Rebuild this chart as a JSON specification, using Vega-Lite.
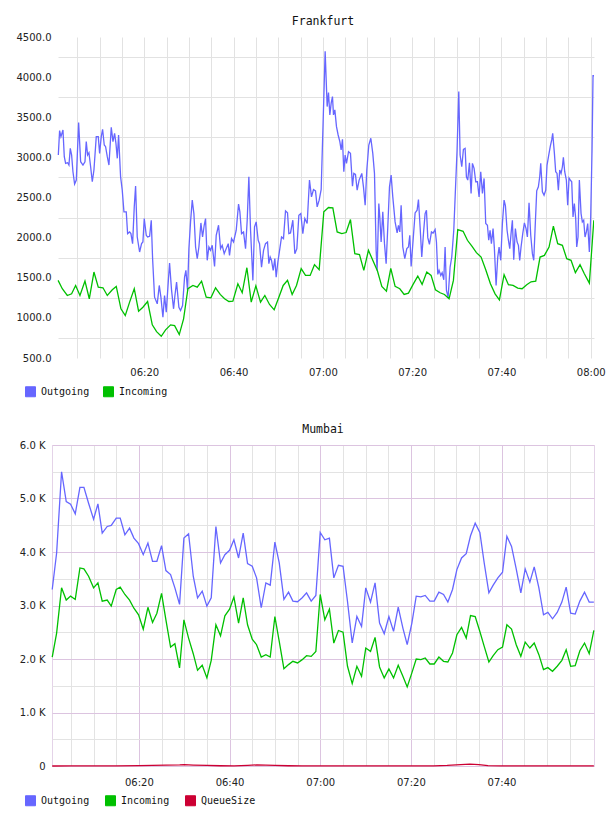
{
"$schema": "https://vega.github.io/schema/vega-lite/v6.json",
"background": "white",
"padding": {"left": 0, "top": 15, "right": 0, "bottom": 0},
"spacing": 24,
"columns": 1,
"config": {
  "font": "DejaVu Sans",
  "axis": {"labelFont": "DejaVu Sans", "labelFontSize": 10, "labelColor": "#222", "ticks": false, "domain": false, "title": null, "gridWidth": 1},
  "title": {"font": "DejaVu Sans Mono", "fontSize": 11.5, "fontWeight": "normal", "color": "#111", "anchor": "middle", "offset": 5},
  "legend": {"labelFont": "DejaVu Sans Mono", "labelFontSize": 10, "labelColor": "#111", "symbolType": "square", "symbolSize": 100, "labelOffset": 5, "title": null, "padding": 0}
},
"resolve": {"scale": {"x": "independent", "y": "independent", "color": "shared"}, "legend": {"color": "independent"}},
"datasets": {
"fra": [
{"m":0.75,"Outgoing":3029},{"m":1.04,"Outgoing":3333},{"m":1.34,"Outgoing":3258},{"m":1.79,"Outgoing":3342},{"m":2.09,"Outgoing":3008},{"m":2.39,"Outgoing":2925},{"m":2.84,"Outgoing":2933},{"m":3.13,"Outgoing":2904},{"m":3.43,"Outgoing":3112},{"m":3.73,"Outgoing":3029},{"m":4.03,"Outgoing":2821},{"m":4.4,"Outgoing":2667},{"m":4.78,"Outgoing":2717},{"m":5.3,"Outgoing":3433},{"m":5.75,"Outgoing":2946},{"m":6.27,"Outgoing":2904},{"m":6.72,"Outgoing":2946},{"m":7.01,"Outgoing":3196},{"m":7.31,"Outgoing":3029},{"m":7.61,"Outgoing":3058},{"m":7.99,"Outgoing":2883},{"m":8.36,"Outgoing":2696},{"m":8.73,"Outgoing":2842},{"m":9.25,"Outgoing":3258},{"m":9.7,"Outgoing":3258},{"m":10.0,"Outgoing":3050},{"m":10.37,"Outgoing":3258},{"m":10.67,"Outgoing":3350},{"m":11.04,"Outgoing":3154},{"m":11.34,"Outgoing":3133},{"m":11.72,"Outgoing":3008},{"m":12.09,"Outgoing":2904},{"m":12.61,"Outgoing":3375},{"m":12.99,"Outgoing":3196},{"m":13.36,"Outgoing":3300},{"m":13.66,"Outgoing":3175},{"m":13.96,"Outgoing":2988},{"m":14.25,"Outgoing":3279},{"m":14.7,"Outgoing":2758},{"m":15.07,"Outgoing":2592},{"m":15.45,"Outgoing":2321},{"m":15.97,"Outgoing":2321},{"m":16.27,"Outgoing":2050},{"m":16.72,"Outgoing":2071},{"m":17.01,"Outgoing":2050},{"m":17.39,"Outgoing":1925},{"m":17.76,"Outgoing":2383},{"m":18.06,"Outgoing":2642},{"m":18.43,"Outgoing":2008},{"m":18.96,"Outgoing":1821},{"m":19.4,"Outgoing":1925},{"m":19.7,"Outgoing":1946},{"m":20.0,"Outgoing":2238},{"m":20.45,"Outgoing":2029},{"m":20.75,"Outgoing":2008},{"m":21.2,"Outgoing":2017},{"m":21.57,"Outgoing":2217},{"m":21.87,"Outgoing":1738},{"m":22.31,"Outgoing":1258},{"m":22.91,"Outgoing":1175},{"m":23.36,"Outgoing":1404},{"m":23.73,"Outgoing":1258},{"m":24.18,"Outgoing":1008},{"m":24.55,"Outgoing":1279},{"m":24.93,"Outgoing":1071},{"m":25.3,"Outgoing":1383},{"m":25.67,"Outgoing":1683},{"m":26.12,"Outgoing":1342},{"m":26.57,"Outgoing":1113},{"m":26.87,"Outgoing":1279},{"m":27.24,"Outgoing":1446},{"m":27.76,"Outgoing":1133},{"m":28.13,"Outgoing":1092},{"m":28.58,"Outgoing":1154},{"m":29.03,"Outgoing":1508},{"m":29.33,"Outgoing":1592},{"m":29.7,"Outgoing":1342},{"m":30.0,"Outgoing":1862},{"m":30.37,"Outgoing":2196},{"m":30.75,"Outgoing":2467},{"m":31.12,"Outgoing":2300},{"m":31.5,"Outgoing":1883},{"m":31.87,"Outgoing":1738},{"m":32.24,"Outgoing":1883},{"m":32.69,"Outgoing":2183},{"m":33.06,"Outgoing":2008},{"m":33.43,"Outgoing":2154},{"m":33.73,"Outgoing":2238},{"m":34.1,"Outgoing":1717},{"m":34.48,"Outgoing":1883},{"m":34.85,"Outgoing":1842},{"m":35.22,"Outgoing":1904},{"m":35.75,"Outgoing":1642},{"m":36.12,"Outgoing":2029},{"m":36.64,"Outgoing":2154},{"m":37.09,"Outgoing":1863},{"m":37.46,"Outgoing":1904},{"m":37.91,"Outgoing":1800},{"m":38.36,"Outgoing":1863},{"m":38.81,"Outgoing":1925},{"m":39.1,"Outgoing":1779},{"m":39.55,"Outgoing":1988},{"m":40.0,"Outgoing":1946},{"m":40.6,"Outgoing":2092},{"m":41.12,"Outgoing":2417},{"m":41.42,"Outgoing":2321},{"m":41.79,"Outgoing":2050},{"m":42.24,"Outgoing":2071},{"m":42.69,"Outgoing":1863},{"m":43.06,"Outgoing":2217},{"m":43.43,"Outgoing":2758},{"m":43.81,"Outgoing":2092},{"m":44.33,"Outgoing":1467},{"m":44.7,"Outgoing":2133},{"m":45.07,"Outgoing":2196},{"m":45.52,"Outgoing":1967},{"m":45.82,"Outgoing":1925},{"m":46.27,"Outgoing":1633},{"m":46.72,"Outgoing":1842},{"m":47.16,"Outgoing":1925},{"m":47.61,"Outgoing":1946},{"m":47.91,"Outgoing":1675},{"m":48.21,"Outgoing":1758},{"m":48.51,"Outgoing":1717},{"m":48.88,"Outgoing":1592},{"m":49.25,"Outgoing":1738},{"m":49.55,"Outgoing":1508},{"m":49.93,"Outgoing":1696},{"m":50.37,"Outgoing":1863},{"m":50.75,"Outgoing":2008},{"m":51.19,"Outgoing":1988},{"m":51.64,"Outgoing":2333},{"m":52.09,"Outgoing":2308},{"m":52.39,"Outgoing":2050},{"m":52.76,"Outgoing":2058},{"m":53.28,"Outgoing":2217},{"m":53.73,"Outgoing":1800},{"m":54.18,"Outgoing":1863},{"m":54.63,"Outgoing":2279},{"m":55.07,"Outgoing":2300},{"m":55.52,"Outgoing":2050},{"m":55.97,"Outgoing":2238},{"m":56.49,"Outgoing":2175},{"m":57.01,"Outgoing":2717},{"m":57.46,"Outgoing":2508},{"m":57.91,"Outgoing":2600},{"m":58.36,"Outgoing":2583},{"m":58.73,"Outgoing":2383},{"m":59.18,"Outgoing":2467},{"m":59.63,"Outgoing":2600},{"m":60.52,"Outgoing":4321},{"m":60.97,"Outgoing":3633},{"m":61.27,"Outgoing":3808},{"m":61.57,"Outgoing":3529},{"m":61.87,"Outgoing":3675},{"m":62.16,"Outgoing":3758},{"m":62.39,"Outgoing":3529},{"m":62.69,"Outgoing":3592},{"m":63.06,"Outgoing":3383},{"m":63.43,"Outgoing":3279},{"m":63.81,"Outgoing":3196},{"m":64.1,"Outgoing":3092},{"m":64.4,"Outgoing":3225},{"m":64.7,"Outgoing":2821},{"m":65.0,"Outgoing":3029},{"m":65.3,"Outgoing":2925},{"m":65.75,"Outgoing":3071},{"m":66.19,"Outgoing":3050},{"m":66.64,"Outgoing":2642},{"m":66.94,"Outgoing":2800},{"m":67.31,"Outgoing":2788},{"m":67.69,"Outgoing":2592},{"m":68.13,"Outgoing":2717},{"m":68.73,"Outgoing":2800},{"m":69.1,"Outgoing":2633},{"m":69.48,"Outgoing":2404},{"m":69.85,"Outgoing":2842},{"m":70.3,"Outgoing":3154},{"m":70.75,"Outgoing":3238},{"m":71.19,"Outgoing":3050},{"m":71.57,"Outgoing":2800},{"m":71.94,"Outgoing":1842},{"m":72.16,"Outgoing":1592},{"m":72.54,"Outgoing":2425},{"m":72.76,"Outgoing":2258},{"m":73.06,"Outgoing":1946},{"m":73.43,"Outgoing":2321},{"m":73.81,"Outgoing":1925},{"m":74.18,"Outgoing":1675},{"m":74.55,"Outgoing":2133},{"m":74.93,"Outgoing":2633},{"m":75.3,"Outgoing":2779},{"m":75.67,"Outgoing":2508},{"m":76.19,"Outgoing":2196},{"m":76.64,"Outgoing":2058},{"m":76.94,"Outgoing":2154},{"m":77.24,"Outgoing":2071},{"m":77.54,"Outgoing":2404},{"m":77.91,"Outgoing":1883},{"m":78.36,"Outgoing":1738},{"m":78.81,"Outgoing":1863},{"m":79.18,"Outgoing":1883},{"m":79.48,"Outgoing":2029},{"m":79.78,"Outgoing":1642},{"m":80.22,"Outgoing":1967},{"m":80.67,"Outgoing":2308},{"m":81.12,"Outgoing":2342},{"m":81.42,"Outgoing":2475},{"m":81.79,"Outgoing":2133},{"m":82.16,"Outgoing":1758},{"m":82.54,"Outgoing":2050},{"m":82.91,"Outgoing":2300},{"m":83.21,"Outgoing":2342},{"m":83.51,"Outgoing":2000},{"m":83.88,"Outgoing":1917},{"m":84.33,"Outgoing":2071},{"m":84.7,"Outgoing":2058},{"m":85.15,"Outgoing":2100},{"m":85.45,"Outgoing":1946},{"m":85.75,"Outgoing":1542},{"m":86.04,"Outgoing":1592},{"m":86.42,"Outgoing":1529},{"m":86.72,"Outgoing":1563},{"m":87.09,"Outgoing":1475},{"m":87.39,"Outgoing":1883},{"m":87.69,"Outgoing":1342},{"m":88.06,"Outgoing":1258},{"m":88.51,"Outgoing":1633},{"m":88.88,"Outgoing":1758},{"m":89.33,"Outgoing":2092},{"m":89.7,"Outgoing":2592},{"m":90.07,"Outgoing":3092},{"m":90.45,"Outgoing":3821},{"m":90.75,"Outgoing":3029},{"m":91.12,"Outgoing":2883},{"m":91.49,"Outgoing":3100},{"m":91.87,"Outgoing":3113},{"m":92.16,"Outgoing":2758},{"m":92.46,"Outgoing":2717},{"m":92.84,"Outgoing":2933},{"m":93.21,"Outgoing":2550},{"m":93.51,"Outgoing":2925},{"m":93.88,"Outgoing":2863},{"m":94.25,"Outgoing":2696},{"m":94.63,"Outgoing":2696},{"m":95.0,"Outgoing":2508},{"m":95.37,"Outgoing":2821},{"m":95.75,"Outgoing":2550},{"m":96.12,"Outgoing":2738},{"m":96.49,"Outgoing":2175},{"m":96.87,"Outgoing":2154},{"m":97.16,"Outgoing":1967},{"m":97.46,"Outgoing":2092},{"m":97.76,"Outgoing":1925},{"m":98.13,"Outgoing":2113},{"m":98.43,"Outgoing":1863},{"m":98.81,"Outgoing":1404},{"m":99.18,"Outgoing":1758},{"m":99.48,"Outgoing":1883},{"m":99.85,"Outgoing":1717},{"m":100.22,"Outgoing":2175},{"m":100.6,"Outgoing":2467},{"m":100.9,"Outgoing":2396},{"m":101.27,"Outgoing":2092},{"m":101.57,"Outgoing":1967},{"m":101.87,"Outgoing":1863},{"m":102.16,"Outgoing":2050},{"m":102.46,"Outgoing":2217},{"m":102.76,"Outgoing":1725},{"m":103.13,"Outgoing":2113},{"m":103.51,"Outgoing":1946},{"m":103.81,"Outgoing":1904},{"m":104.1,"Outgoing":1717},{"m":104.4,"Outgoing":1883},{"m":104.78,"Outgoing":2050},{"m":105.15,"Outgoing":2183},{"m":105.52,"Outgoing":2113},{"m":105.82,"Outgoing":2008},{"m":106.19,"Outgoing":2433},{"m":106.57,"Outgoing":2029},{"m":106.94,"Outgoing":1800},{"m":107.24,"Outgoing":1717},{"m":107.61,"Outgoing":2196},{"m":107.91,"Outgoing":2583},{"m":108.28,"Outgoing":2633},{"m":108.58,"Outgoing":2758},{"m":108.81,"Outgoing":2925},{"m":109.18,"Outgoing":2571},{"m":109.55,"Outgoing":2529},{"m":109.93,"Outgoing":2592},{"m":110.22,"Outgoing":2904},{"m":110.6,"Outgoing":3029},{"m":110.97,"Outgoing":3142},{"m":111.27,"Outgoing":3217},{"m":111.49,"Outgoing":3300},{"m":111.87,"Outgoing":3050},{"m":112.16,"Outgoing":2821},{"m":112.46,"Outgoing":2800},{"m":112.76,"Outgoing":2592},{"m":113.06,"Outgoing":2842},{"m":113.36,"Outgoing":2800},{"m":113.66,"Outgoing":2883},{"m":113.88,"Outgoing":3000},{"m":114.18,"Outgoing":2821},{"m":114.55,"Outgoing":2717},{"m":114.85,"Outgoing":2404},{"m":115.15,"Outgoing":2742},{"m":115.45,"Outgoing":2717},{"m":115.75,"Outgoing":2696},{"m":116.04,"Outgoing":2258},{"m":116.34,"Outgoing":2425},{"m":116.64,"Outgoing":2238},{"m":116.87,"Outgoing":1883},{"m":117.16,"Outgoing":2008},{"m":117.46,"Outgoing":2717},{"m":117.84,"Outgoing":2300},{"m":118.13,"Outgoing":2196},{"m":118.43,"Outgoing":2217},{"m":118.73,"Outgoing":2008},{"m":119.03,"Outgoing":2071},{"m":119.33,"Outgoing":2175},{"m":119.7,"Outgoing":1821},{"m":120.0,"Outgoing":2258},{"m":120.3,"Outgoing":3092},{"m":120.52,"Outgoing":4017},{"m":120.74,"Outgoing":4017},
{"m":0.7,"Incoming":1467},{"m":1.64,"Incoming":1363},{"m":2.76,"Incoming":1279},{"m":3.73,"Incoming":1300},{"m":4.63,"Incoming":1404},{"m":5.6,"Incoming":1279},{"m":6.72,"Incoming":1458},{"m":7.69,"Incoming":1238},{"m":8.73,"Incoming":1571},{"m":9.7,"Incoming":1383},{"m":10.75,"Incoming":1375},{"m":11.72,"Incoming":1279},{"m":12.84,"Incoming":1350},{"m":13.73,"Incoming":1392},{"m":14.78,"Incoming":1113},{"m":15.75,"Incoming":1029},{"m":16.72,"Incoming":1196},{"m":17.76,"Incoming":1363},{"m":18.73,"Incoming":1083},{"m":19.7,"Incoming":1133},{"m":20.75,"Incoming":1204},{"m":21.8,"Incoming":913},{"m":22.76,"Incoming":829},{"m":23.81,"Incoming":771},{"m":24.78,"Incoming":850},{"m":25.9,"Incoming":913},{"m":26.8,"Incoming":904},{"m":27.84,"Incoming":792},{"m":28.81,"Incoming":988},{"m":29.78,"Incoming":1363},{"m":30.9,"Incoming":1404},{"m":31.87,"Incoming":1383},{"m":32.84,"Incoming":1458},{"m":33.88,"Incoming":1258},{"m":34.93,"Incoming":1250},{"m":35.97,"Incoming":1375},{"m":37.01,"Incoming":1292},{"m":37.99,"Incoming":1238},{"m":38.96,"Incoming":1204},{"m":39.85,"Incoming":1208},{"m":40.97,"Incoming":1425},{"m":41.94,"Incoming":1313},{"m":42.99,"Incoming":1625},{"m":43.96,"Incoming":1196},{"m":45.0,"Incoming":1400},{"m":46.04,"Incoming":1196},{"m":47.01,"Incoming":1279},{"m":48.06,"Incoming":1167},{"m":49.1,"Incoming":1100},{"m":50.15,"Incoming":1258},{"m":51.12,"Incoming":1404},{"m":52.09,"Incoming":1467},{"m":53.13,"Incoming":1292},{"m":54.1,"Incoming":1404},{"m":55.15,"Incoming":1613},{"m":56.12,"Incoming":1529},{"m":57.16,"Incoming":1529},{"m":58.13,"Incoming":1663},{"m":59.18,"Incoming":1600},{"m":60.22,"Incoming":2321},{"m":61.27,"Incoming":2375},{"m":62.24,"Incoming":2371},{"m":63.21,"Incoming":2071},{"m":64.25,"Incoming":2050},{"m":65.22,"Incoming":2063},{"m":66.19,"Incoming":2225},{"m":67.16,"Incoming":1800},{"m":68.21,"Incoming":1788},{"m":69.18,"Incoming":1592},{"m":70.22,"Incoming":1842},{"m":71.19,"Incoming":1717},{"m":72.24,"Incoming":1583},{"m":73.21,"Incoming":1392},{"m":74.25,"Incoming":1333},{"m":75.22,"Incoming":1617},{"m":76.19,"Incoming":1392},{"m":77.24,"Incoming":1363},{"m":78.21,"Incoming":1292},{"m":79.18,"Incoming":1308},{"m":80.22,"Incoming":1417},{"m":81.27,"Incoming":1521},{"m":82.24,"Incoming":1417},{"m":83.28,"Incoming":1571},{"m":84.25,"Incoming":1529},{"m":85.22,"Incoming":1350},{"m":86.27,"Incoming":1313},{"m":87.24,"Incoming":1292},{"m":88.28,"Incoming":1238},{"m":89.25,"Incoming":1467},{"m":90.22,"Incoming":2100},{"m":91.42,"Incoming":2079},{"m":92.39,"Incoming":1967},{"m":93.43,"Incoming":1892},{"m":94.4,"Incoming":1813},{"m":95.45,"Incoming":1758},{"m":96.49,"Incoming":1600},{"m":97.54,"Incoming":1425},{"m":98.58,"Incoming":1300},{"m":99.55,"Incoming":1225},{"m":100.6,"Incoming":1538},{"m":101.57,"Incoming":1413},{"m":102.61,"Incoming":1404},{"m":103.66,"Incoming":1371},{"m":104.63,"Incoming":1363},{"m":105.67,"Incoming":1413},{"m":106.64,"Incoming":1450},{"m":107.69,"Incoming":1458},{"m":108.66,"Incoming":1758},{"m":109.63,"Incoming":1779},{"m":110.67,"Incoming":1883},{"m":111.64,"Incoming":2142},{"m":112.61,"Incoming":1925},{"m":113.66,"Incoming":1904},{"m":114.63,"Incoming":1738},{"m":115.6,"Incoming":1717},{"m":116.57,"Incoming":1563},{"m":117.61,"Incoming":1663},{"m":118.58,"Incoming":1550},{"m":119.7,"Incoming":1433},{"m":120.7,"Incoming":2217}
],
"mum": [
{"m":0.88,"Outgoing":3299,"Incoming":2037},{"m":1.85,"Outgoing":3981,"Incoming":2484},{"m":2.94,"Outgoing":5500,"Incoming":3330},{"m":3.97,"Outgoing":4942,"Incoming":3101},{"m":4.93,"Outgoing":4893,"Incoming":3175},{"m":5.96,"Outgoing":4713,"Incoming":3113},{"m":6.99,"Outgoing":5209,"Incoming":3702},{"m":7.87,"Outgoing":5209,"Incoming":3684},{"m":8.9,"Outgoing":4911,"Incoming":3547},{"m":10.0,"Outgoing":4614,"Incoming":3330},{"m":10.96,"Outgoing":4899,"Incoming":3423},{"m":11.91,"Outgoing":4353,"Incoming":3082},{"m":13.01,"Outgoing":4477,"Incoming":3101},{"m":13.9,"Outgoing":4496,"Incoming":2989},{"m":15.0,"Outgoing":4632,"Incoming":3299},{"m":15.88,"Outgoing":4632,"Incoming":3343},{"m":16.91,"Outgoing":4322,"Incoming":3206},{"m":17.94,"Outgoing":4446,"Incoming":3101},{"m":18.9,"Outgoing":4260,"Incoming":2949},{"m":19.93,"Outgoing":4155,"Incoming":2825},{"m":20.96,"Outgoing":3950,"Incoming":2558},{"m":21.99,"Outgoing":4167,"Incoming":2967},{"m":23.01,"Outgoing":3826,"Incoming":2682},{"m":23.97,"Outgoing":3826,"Incoming":2856},{"m":25.0,"Outgoing":4118,"Incoming":3225},{"m":25.96,"Outgoing":3653,"Incoming":2732},{"m":26.99,"Outgoing":3578,"Incoming":2223},{"m":27.94,"Outgoing":3330,"Incoming":2285},{"m":28.97,"Outgoing":3020,"Incoming":1833},{"m":29.93,"Outgoing":4260,"Incoming":2732},{"m":30.96,"Outgoing":4341,"Incoming":2391},{"m":31.99,"Outgoing":3547,"Incoming":2099},{"m":32.94,"Outgoing":3144,"Incoming":1789},{"m":33.97,"Outgoing":3268,"Incoming":1882},{"m":35.0,"Outgoing":2989,"Incoming":1647},{"m":35.96,"Outgoing":3144,"Incoming":1975},{"m":36.99,"Outgoing":4477,"Incoming":2639},{"m":38.01,"Outgoing":3795,"Incoming":2434},{"m":38.97,"Outgoing":3950,"Incoming":2806},{"m":40.0,"Outgoing":4031,"Incoming":2930},{"m":40.96,"Outgoing":4229,"Incoming":3157},{"m":41.99,"Outgoing":3888,"Incoming":2670},{"m":43.01,"Outgoing":4353,"Incoming":3144},{"m":43.97,"Outgoing":3783,"Incoming":2639},{"m":45.0,"Outgoing":3733,"Incoming":2372},{"m":45.96,"Outgoing":3516,"Incoming":2267},{"m":46.99,"Outgoing":2958,"Incoming":2037},{"m":48.01,"Outgoing":3423,"Incoming":2081},{"m":48.97,"Outgoing":3380,"Incoming":2037},{"m":50.0,"Outgoing":4186,"Incoming":2794},{"m":50.96,"Outgoing":3795,"Incoming":2329},{"m":51.99,"Outgoing":3113,"Incoming":1820},{"m":53.01,"Outgoing":3250,"Incoming":1895},{"m":53.97,"Outgoing":3082,"Incoming":1957},{"m":55.0,"Outgoing":3070,"Incoming":1926},{"m":56.03,"Outgoing":3144,"Incoming":1988},{"m":56.99,"Outgoing":3237,"Incoming":2062},{"m":58.01,"Outgoing":3082,"Incoming":2050},{"m":59.04,"Outgoing":3188,"Incoming":2143},{"m":60.0,"Outgoing":4366,"Incoming":3206},{"m":61.02,"Outgoing":4229,"Incoming":2732},{"m":62.03,"Outgoing":4260,"Incoming":2930},{"m":63.0,"Outgoing":3516,"Incoming":2298},{"m":64.02,"Outgoing":3752,"Incoming":2533},{"m":65.04,"Outgoing":3733,"Incoming":2502},{"m":66.02,"Outgoing":3074,"Incoming":1864},{"m":67.06,"Outgoing":2299,"Incoming":1541},{"m":68.09,"Outgoing":2795,"Incoming":1864},{"m":69.12,"Outgoing":2609,"Incoming":1678},{"m":70.05,"Outgoing":3330,"Incoming":2205},{"m":71.1,"Outgoing":3064,"Incoming":2143},{"m":72.1,"Outgoing":3423,"Incoming":2403},{"m":73.09,"Outgoing":2671,"Incoming":1851},{"m":74.12,"Outgoing":2473,"Incoming":1647},{"m":75.15,"Outgoing":2795,"Incoming":1814},{"m":76.18,"Outgoing":2516,"Incoming":1647},{"m":77.21,"Outgoing":2969,"Incoming":1882},{"m":78.24,"Outgoing":2578,"Incoming":1678},{"m":79.19,"Outgoing":2268,"Incoming":1479},{"m":80.22,"Outgoing":2671,"Incoming":1740},{"m":81.18,"Outgoing":3175,"Incoming":2000},{"m":82.21,"Outgoing":3163,"Incoming":1988},{"m":83.16,"Outgoing":3188,"Incoming":2019},{"m":84.19,"Outgoing":3082,"Incoming":1907},{"m":85.15,"Outgoing":3082,"Incoming":1907},{"m":86.18,"Outgoing":3250,"Incoming":2037},{"m":87.21,"Outgoing":3206,"Incoming":1957},{"m":88.16,"Outgoing":3064,"Incoming":1944},{"m":89.19,"Outgoing":3299,"Incoming":2112},{"m":90.15,"Outgoing":3671,"Incoming":2453},{"m":91.18,"Outgoing":3888,"Incoming":2589},{"m":92.21,"Outgoing":3969,"Incoming":2391},{"m":93.16,"Outgoing":4304,"Incoming":2812},{"m":94.19,"Outgoing":4539,"Incoming":2794},{"m":95.22,"Outgoing":4366,"Incoming":2515},{"m":96.18,"Outgoing":3795,"Incoming":2236},{"m":97.21,"Outgoing":3237,"Incoming":1944},{"m":98.16,"Outgoing":3380,"Incoming":2062},{"m":99.19,"Outgoing":3516,"Incoming":2174},{"m":100.22,"Outgoing":3622,"Incoming":2223},{"m":101.18,"Outgoing":4291,"Incoming":2639},{"m":102.21,"Outgoing":4105,"Incoming":2558},{"m":103.24,"Outgoing":3684,"Incoming":2267},{"m":104.26,"Outgoing":3237,"Incoming":2050},{"m":105.22,"Outgoing":3684,"Incoming":2316},{"m":106.25,"Outgoing":3436,"Incoming":2205},{"m":107.21,"Outgoing":3721,"Incoming":2298},{"m":108.24,"Outgoing":3330,"Incoming":2081},{"m":109.26,"Outgoing":2826,"Incoming":1802},{"m":110.22,"Outgoing":2870,"Incoming":1839},{"m":111.25,"Outgoing":2752,"Incoming":1771},{"m":112.28,"Outgoing":2870,"Incoming":1864},{"m":113.31,"Outgoing":3064,"Incoming":1975},{"m":114.26,"Outgoing":3343,"Incoming":2174},{"m":115.25,"Outgoing":2857,"Incoming":1864},{"m":116.25,"Outgoing":2840,"Incoming":1876},{"m":117.28,"Outgoing":3082,"Incoming":2155},{"m":118.31,"Outgoing":3250,"Incoming":2298},{"m":119.34,"Outgoing":3064,"Incoming":2099},{"m":120.37,"Outgoing":3064,"Incoming":2533},
{"m":0.88,"QueueSize":0},{"m":5,"QueueSize":2},{"m":10,"QueueSize":3},{"m":15,"QueueSize":2},{"m":20,"QueueSize":8},{"m":23,"QueueSize":12},{"m":26,"QueueSize":15},{"m":29,"QueueSize":20},{"m":30,"QueueSize":25},{"m":32,"QueueSize":18},{"m":35,"QueueSize":10},{"m":38,"QueueSize":5},{"m":41,"QueueSize":3},{"m":44,"QueueSize":12},{"m":46,"QueueSize":20},{"m":48,"QueueSize":15},{"m":50,"QueueSize":10},{"m":53,"QueueSize":5},{"m":56,"QueueSize":3},{"m":60,"QueueSize":2},{"m":65,"QueueSize":3},{"m":70,"QueueSize":2},{"m":75,"QueueSize":1},{"m":80,"QueueSize":2},{"m":85,"QueueSize":3},{"m":88,"QueueSize":10},{"m":90,"QueueSize":20},{"m":92,"QueueSize":30},{"m":93,"QueueSize":35},{"m":95,"QueueSize":25},{"m":97,"QueueSize":8},{"m":100,"QueueSize":3},{"m":105,"QueueSize":2},{"m":110,"QueueSize":2},{"m":115,"QueueSize":1},{"m":120.37,"QueueSize":2}
]
},
"concat": [
{
  "title": {"text": "Frankfurt"},
  "width": 542, "height": 321,
  "view": {"stroke": null},
  "data": {"name": "fra"},
  "transform": [{"fold": ["Outgoing", "Incoming"], "as": ["series", "value"]}, {"filter": "isValid(datum.value)"}],
  "mark": {"type": "line", "strokeWidth": 1.3, "clip": true},
  "encoding": {
    "x": {"field": "m", "type": "quantitative", "scale": {"domain": [0.68, 120.74], "range": [6, 542], "nice": false, "zero": false},
      "axis": {"values": [5,10,15,20,25,30,35,40,45,50,55,60,65,70,75,80,85,90,95,100,105,110,115,120], "grid": true, "gridColor": "#e2e2e2", "labelPadding": 9, "labelFlush": false, "labelOverlap": false,
        "labelExpr": "datum.value % 20 == 0 ? '0' + (6 + floor(datum.value / 60)) + ':' + (datum.value % 60 == 0 ? '00' : '' + (datum.value % 60)) : ''"}},
    "y": {"field": "value", "type": "quantitative", "scale": {"domain": [500, 4500], "nice": false, "zero": false},
      "axis": {"values": [500,750,1000,1250,1500,1750,2000,2250,2500,2750,3000,3250,3500,3750,4000,4250,4500], "grid": true, "gridColor": "#e2e2e2", "labelPadding": 1, "minExtent": 51, "maxExtent": 51, "labelOverlap": false, "labelFlush": false,
        "gridOpacity": {"condition": {"test": "datum.value % 500 == 250", "value": 1}, "value": 0},
        "labelExpr": "datum.value % 500 == 0 ? format(datum.value, '.1f') : ''"}},
    "color": {"field": "series", "type": "nominal",
      "scale": {"domain": ["Outgoing", "Incoming", "QueueSize"], "range": ["#6666ff", "#00c000", "#cc0033"]},
      "legend": {"values": ["Outgoing", "Incoming"], "orient": "none", "legendX": -27, "legendY": 349, "direction": "horizontal", "columnPadding": 11,
        "encode": {"symbols": {"update": {"fill": {"scale": "color", "field": "value"}, "fillOpacity": {"value": 1}, "stroke": {"value": "#8c8c8c"}, "strokeWidth": {"value": 1}}}}}}
  }
},
{
  "title": {"text": "Mumbai"},
  "width": 542, "height": 321,
  "view": {"stroke": "#e4d3e8"},
  "data": {"name": "mum"},
  "transform": [{"fold": ["Outgoing", "Incoming", "QueueSize"], "as": ["series", "value"]}, {"filter": "isValid(datum.value)"}],
  "mark": {"type": "line", "strokeWidth": 1.3, "clip": false},
  "encoding": {
    "x": {"field": "m", "type": "quantitative", "scale": {"domain": [0.83, 120.4], "nice": false, "zero": false},
      "axis": {"values": [5,10,15,20,25,30,35,40,45,50,55,60,65,70,75,80,85,90,95,100,105,110,115], "grid": true, "labelPadding": 11, "labelFlush": false, "labelOverlap": false,
        "gridColor": {"condition": {"test": "datum.value % 20 == 0", "value": "#dcc4e0"}, "value": "#e3e3e3"},
        "labelExpr": "datum.value % 20 == 0 ? '0' + (6 + floor(datum.value / 60)) + ':' + (datum.value % 60 == 0 ? '00' : '' + (datum.value % 60)) : ''"}},
    "y": {"field": "value", "type": "quantitative", "scale": {"domain": [0, 6000], "nice": false, "zero": true},
      "axis": {"values": [0,500,1000,1500,2000,2500,3000,3500,4000,4500,5000,5500,6000], "grid": true, "labelPadding": 7, "minExtent": 51, "maxExtent": 51, "labelOverlap": false, "labelFlush": false,
        "gridColor": {"condition": {"test": "datum.value % 1000 == 0", "value": "#dcc4e0"}, "value": "#e3e3e3"},
        "labelExpr": "datum.value % 1000 == 0 ? (datum.value == 0 ? '0' : format(datum.value / 1000, '.1f') + ' K') : ''"}},
    "color": {"field": "series", "type": "nominal",
      "scale": {"domain": ["Outgoing", "Incoming", "QueueSize"], "range": ["#6666ff", "#00c000", "#cc0033"]},
      "legend": {"values": ["Outgoing", "Incoming", "QueueSize"], "orient": "none", "legendX": -27, "legendY": 350, "direction": "horizontal", "columnPadding": 13,
        "encode": {"symbols": {"update": {"fill": {"scale": "color", "field": "value"}, "fillOpacity": {"value": 1}, "stroke": {"value": "#8c8c8c"}, "strokeWidth": {"value": 1}}}}}}
  }
}
]
}
